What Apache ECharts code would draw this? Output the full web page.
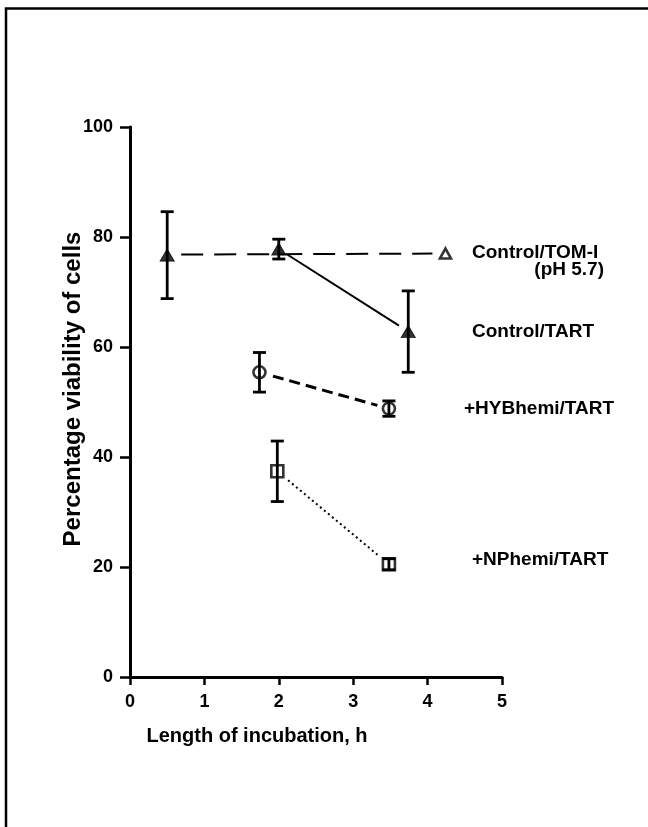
<!DOCTYPE html>
<html>
<head>
<meta charset="utf-8">
<script src="https://cdn.jsdelivr.net/npm/echarts@6/dist/echarts.min.js"></script>
<style>
  html, body { margin: 0; padding: 0; background: #fff; }
  #chart { width: 648px; height: 827px; }
</style>
</head>
<body>
<div id="chart"></div>
<script>
// Cell viability (%) versus incubation time (h), means with error bars
const hoursTART = [0.5, 2.0, 3.74];
const viabTART = [76.7, 77.8, 62.8];
const errTART = [7.9, 1.8, 7.4];

const hoursTOM = [0.5, 4.24];
const viabTOM = [76.8, 77.0];

const hoursHYB = [1.74, 3.48];
const viabHYB = [55.4, 48.8];
const errHYB = [3.6, 1.4];

const hoursNP = [1.98, 3.48];
const viabNP = [37.4, 20.5];
const errNP = [5.5, 1.0];

const xTicks = [0, 1, 2, 3, 4, 5];
const yTicks = [0, 20, 40, 60, 80, 100];

const seriesLabels = ['Control/TOM-I', '(pH 5.7)', 'Control/TART', '+HYBhemi/TART', '+NPhemi/TART'];

const FONT = '"Liberation Sans", Arial, Helvetica, sans-serif';

function pts(xs, ys) { return xs.map((x, i) => [x, ys[i]]); }
function errPts(xs, ys, es) { return xs.map((x, i) => [x, ys[i], es[i]]); }
function segs(xs, ys, from) {
  const out = [];
  for (let i = from; i < xs.length - 1; i++) out.push([xs[i], ys[i], xs[i + 1], ys[i + 1]]);
  return out;
}

// connecting line segment, trimmed back from both markers
function segmentSeries(data, dash, width, trimA, trimB) {
  return {
    type: 'custom',
    data: data,
    z: 2,
    renderItem: function (params, api) {
      const a = api.coord([api.value(0), api.value(1)]);
      const b = api.coord([api.value(2), api.value(3)]);
      const dx = b[0] - a[0], dy = b[1] - a[1];
      const len = Math.sqrt(dx * dx + dy * dy);
      const ux = dx / len, uy = dy / len;
      return {
        type: 'line',
        shape: {
          x1: a[0] + ux * trimA, y1: a[1] + uy * trimA,
          x2: b[0] - ux * trimB, y2: b[1] - uy * trimB
        },
        style: { stroke: '#000', lineWidth: width, lineDash: dash, fill: null }
      };
    }
  };
}

// vertical error bar with end caps
function errorSeries(data) {
  return {
    type: 'custom',
    data: data,
    z: 3,
    renderItem: function (params, api) {
      const x = api.value(0), y = api.value(1), e = api.value(2);
      const top = api.coord([x, y + e]);
      const bot = api.coord([x, y - e]);
      const half = 6.5;
      const st = { stroke: '#000', lineWidth: 2.8 };
      return {
        type: 'group',
        children: [
          { type: 'line', shape: { x1: top[0], y1: top[1], x2: bot[0], y2: bot[1] }, style: st },
          { type: 'line', shape: { x1: top[0] - half, y1: top[1], x2: top[0] + half, y2: top[1] }, style: st },
          { type: 'line', shape: { x1: bot[0] - half, y1: bot[1], x2: bot[0] + half, y2: bot[1] }, style: st }
        ]
      };
    }
  };
}

function markerSeries(data, symbol, size, filled) {
  return {
    type: 'scatter',
    data: data,
    symbol: symbol,
    symbolSize: size,
    z: 4,
    itemStyle: filled
      ? { color: '#000', borderColor: '#000', borderWidth: 1 }
      : { color: 'rgba(255,255,255,0)', borderColor: '#000', borderWidth: 2.6 }
  };
}

const chart = echarts.init(document.getElementById('chart'), null, { renderer: 'canvas' });

const labelStyle = { fill: '#000', font: 'bold 19px ' + FONT, textVerticalAlign: 'middle' };

chart.setOption({
  animation: false,
  backgroundColor: '#fff',
  grid: { left: 130, right: 146, top: 127, bottom: 150, containLabel: false },
  xAxis: {
    type: 'value',
    min: xTicks[0], max: xTicks[xTicks.length - 1], interval: 1,
    axisLine: { show: true, onZero: false, lineStyle: { color: '#000', width: 3 } },
    axisTick: { show: true, inside: false, length: 8, lineStyle: { color: '#000', width: 2.5 } },
    axisLabel: { color: '#000', fontFamily: FONT, fontWeight: 'bold', fontSize: 18, margin: 16 },
    splitLine: { show: false }
  },
  yAxis: {
    type: 'value',
    min: yTicks[0], max: yTicks[yTicks.length - 1], interval: 20,
    axisLine: { show: true, onZero: false, lineStyle: { color: '#000', width: 3 } },
    axisTick: { show: true, inside: false, length: 10, lineStyle: { color: '#000', width: 2.5 } },
    axisLabel: { color: '#000', fontFamily: FONT, fontWeight: 'bold', fontSize: 18, margin: 17 },
    splitLine: { show: false }
  },
  graphic: [
    { type: 'rect', shape: { x: 6, y: 8.5, width: 700, height: 900 },
      style: { fill: null, stroke: '#000', lineWidth: 2.5 }, silent: true },
    { type: 'text', x: 257, y: 736,
      style: { text: 'Length of incubation, h', fill: '#000', font: 'bold 20px ' + FONT,
               textAlign: 'center', textVerticalAlign: 'middle' } },
    { type: 'text', x: 73, y: 389, rotation: Math.PI / 2,
      style: { text: 'Percentage viability of cells', fill: '#000', font: 'bold 24px ' + FONT,
               textAlign: 'center', textVerticalAlign: 'middle' } },
    { type: 'text', x: 472, y: 253, style: Object.assign({ text: seriesLabels[0], textAlign: 'left' }, labelStyle) },
    { type: 'text', x: 604, y: 270, style: Object.assign({ text: seriesLabels[1], textAlign: 'right' }, labelStyle) },
    { type: 'text', x: 472, y: 332, style: Object.assign({ text: seriesLabels[2], textAlign: 'left' }, labelStyle) },
    { type: 'text', x: 464, y: 409, style: Object.assign({ text: seriesLabels[3], textAlign: 'left' }, labelStyle) },
    { type: 'text', x: 472, y: 560, style: Object.assign({ text: seriesLabels[4], textAlign: 'left' }, labelStyle) }
  ],
  series: [
    segmentSeries(segs(hoursTOM, viabTOM, 0), [22, 11], 2, 14, 13),
    segmentSeries(segs(hoursTART, viabTART, 1), null, 2, 10, 11),
    segmentSeries(segs(hoursHYB, viabHYB, 0), [11, 6], 3, 14, 12),
    segmentSeries(segs(hoursNP, viabNP, 0), [2, 3.2], 2, 14, 13),
    errorSeries(errPts(hoursTART, viabTART, errTART)),
    errorSeries(errPts(hoursHYB, viabHYB, errHYB)),
    errorSeries(errPts(hoursNP, viabNP, errNP)),
    markerSeries(pts(hoursTART, viabTART), 'triangle', [14, 12], true),
    markerSeries([[hoursTOM[1], viabTOM[1]]], 'triangle', [11, 10], false),
    markerSeries(pts(hoursHYB, viabHYB), 'circle', 12, false),
    markerSeries(pts(hoursNP, viabNP), 'rect', 12, false)
  ]
});
</script>
</body>
</html>
